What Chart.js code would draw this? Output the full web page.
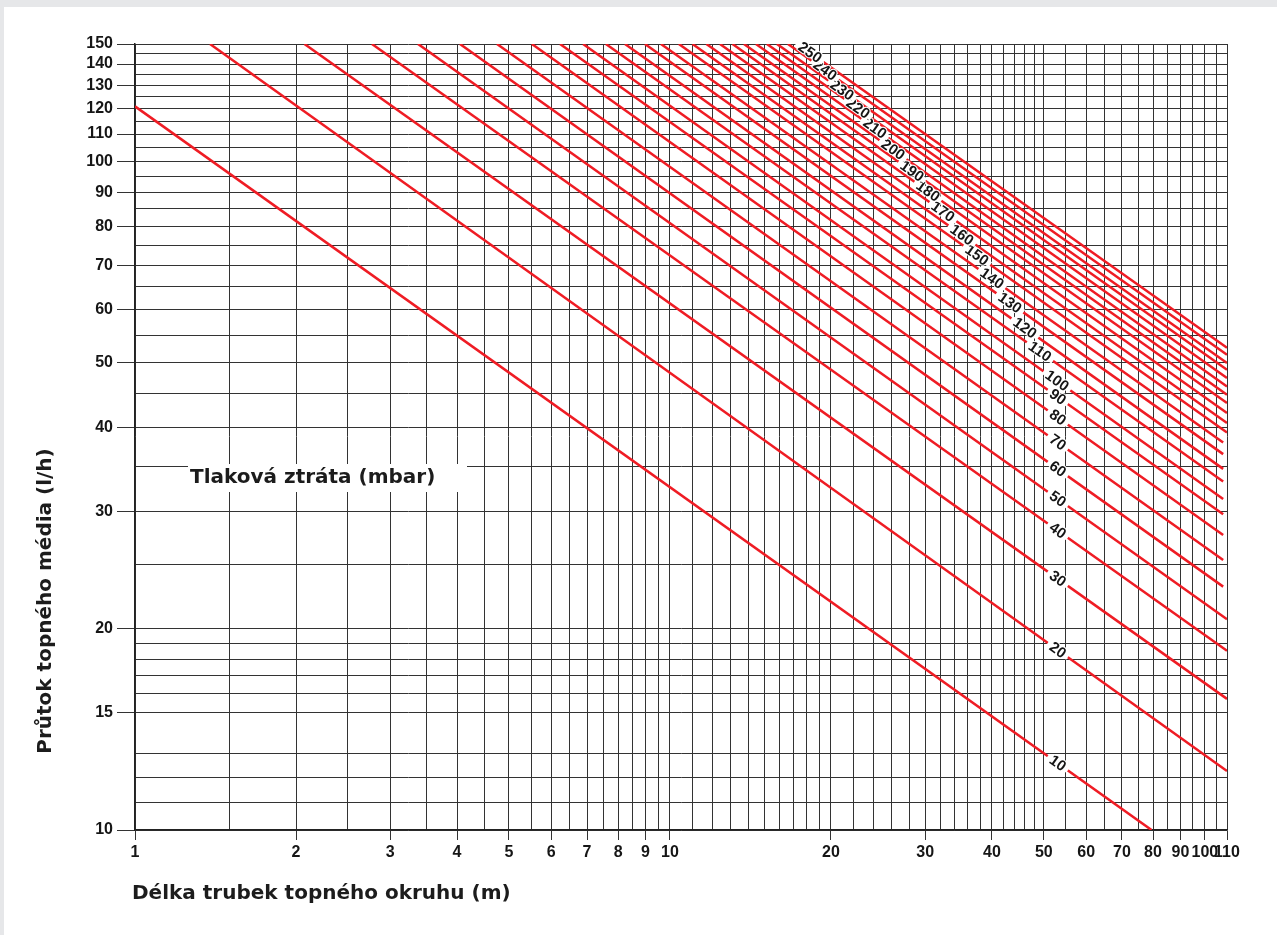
<!DOCTYPE html>
<html>
<head>
<meta charset="utf-8">
<title>Tlaková ztráta topného okruhu</title>
<script src="https://cdn.jsdelivr.net/npm/chart.js@4.4.1/dist/chart.umd.min.js"></script>
<style>
  html, body { margin: 0; padding: 0; background: #e6e7e9; overflow: hidden; }
  #sheet { position: absolute; left: 4px; top: 7px; width: 1273px; height: 928px; background: #ffffff; }
  #chart { position: absolute; left: 0; top: 0; }
</style>
</head>
<body>
<div id="sheet"></div>
<canvas id="chart" width="1277" height="935"></canvas>
<script>
// Pressure loss of each curve (mbar)
const pressureLoss = [10, 20, 30, 40, 50, 60, 70, 80, 90, 100, 110, 120, 130,
                      140, 150, 160, 170, 180, 190, 200, 210, 220, 230, 240, 250];

// Where each curve enters the chart: pipe length (m) and flow (l/h)
const startLength = [1, 1.381, 2.074, 2.773, 3.381, 4.05, 4.75, 5.52, 6.23, 6.88,
                     7.59, 8.24, 8.98, 9.62, 10.39, 11.02, 11.70, 12.40, 13.09,
                     13.75, 14.48, 15.18, 15.85, 16.62, 17.35];
const startFlow = [121, 150, 150, 150, 150, 150, 150, 150, 150, 150, 150, 150, 150,
                   150, 150, 150, 150, 150, 150, 150, 150, 150, 150, 150, 150];

// Where each curve leaves the chart: pipe length (m) and flow (l/h)
const endLength = [79.5, 110, 110, 110, 110, 108.2, 108.2, 108.2, 108.2, 108.2,
                   108.2, 108.2, 108.2, 108.2, 110, 110, 110, 110, 110, 110, 110,
                   110, 110, 110, 110];
const endFlow = [10, 12.25, 15.71, 18.55, 20.67, 23.13, 25.36, 27.64, 29.69, 31.29,
                 33.22, 34.70, 36.51, 38.01, 39.34, 40.63, 42.06, 43.54, 44.80,
                 46.10, 47.46, 48.84, 49.96, 51.41, 52.66];

// Pipe length at which each curve carries its mbar label
const labelLength = [53.1, 53.1, 53.1, 53.1, 53.1, 53.1, 53.1, 53.1, 53.1, 52.9,
                     49.16, 46.08, 43.2, 39.99, 37.48, 35.14, 32.38, 30.36, 28.34,
                     26.12, 24.16, 22.46, 20.97, 19.49, 18.27];

// Grid lines and labelled ticks of the length axis (m)
const lengthGrid = [1, 1.5, 2, 2.5, 3, 3.5, 4, 4.5, 5, 5.5, 6, 6.5, 7, 7.5, 8, 8.5,
                    9, 9.5, 10, 11, 12, 13, 14, 15, 16, 17, 18, 19, 20, 22, 24, 26,
                    28, 30, 32, 34, 36, 38, 40, 42, 44, 46, 48, 50, 55, 60, 65, 70,
                    75, 80, 85, 90, 95, 100, 105, 110];
const lengthLabels = [1, 2, 3, 4, 5, 6, 7, 8, 9, 10, 20, 30, 40, 50, 60, 70, 80, 90,
                      100, 110];

// Grid lines and labelled ticks of the flow axis (l/h)
const flowGrid = [10, 11, 12, 13, 15, 16, 17, 18, 19, 20, 25, 30, 35, 40, 45, 50,
                  55, 60, 65, 70, 75, 80, 85, 90, 95, 100, 105, 110, 115, 120, 125,
                  130, 135, 140, 145, 150];
const flowLabels = [10, 15, 20, 30, 40, 50, 60, 70, 80, 90, 100, 110, 120, 130,
                    140, 150];

const xTitle = 'Délka trubek topného okruhu (m)';
const yTitle = 'Průtok topného média (l/h)';
const curveTitle = 'Tlaková ztráta (mbar)';

const RED = '#ef1c24';
const GRID = '#333333';
const TICK_FONT = { family: '"Liberation Sans", Arial, sans-serif', size: 16, weight: 'bold' };
const TITLE_FONT = 'bold 20px "DejaVu Sans", Verdana, sans-serif';

const datasets = pressureLoss.map((p, i) => ({
  label: p + ' mbar',
  data: [{ x: startLength[i], y: startFlow[i] }, { x: endLength[i], y: endFlow[i] }],
  borderColor: RED,
  borderWidth: 2.5,
  pointRadius: 0,
  fill: false,
  tension: 0
}));

// Titles and the caption box for the mbar curves
const annotations = {
  id: 'annotations',
  beforeDatasetsDraw(chart) {
    const { ctx } = chart;
    ctx.save();
    ctx.fillStyle = '#ffffff';
    ctx.fillRect(188, 464, 279, 28);
    ctx.font = TITLE_FONT;
    ctx.fillStyle = '#1c1c1c';
    ctx.textAlign = 'left';
    ctx.textBaseline = 'middle';
    ctx.fillText(curveTitle, 190, 478);
    ctx.restore();
  },
  afterDraw(chart) {
    const { ctx } = chart;
    ctx.save();
    ctx.font = TITLE_FONT;
    ctx.fillStyle = '#1c1c1c';
    ctx.textBaseline = 'middle';
    ctx.textAlign = 'left';
    ctx.fillText(xTitle, 132, 894);
    ctx.translate(46, 601);
    ctx.rotate(-Math.PI / 2);
    ctx.textAlign = 'center';
    ctx.fillText(yTitle, 0, 0);
    ctx.restore();
  }
};

// mbar value written along each curve, with a break in the red line
const curveLabels = {
  id: 'curveLabels',
  afterDatasetsDraw(chart) {
    const { ctx } = chart;
    const xs = chart.scales.x;
    ctx.save();
    ctx.font = 'bold 15px "Liberation Sans", Arial, sans-serif';
    ctx.textAlign = 'center';
    ctx.textBaseline = 'middle';
    chart.data.datasets.forEach((ds, i) => {
      const pts = chart.getDatasetMeta(i).data;
      const a = pts[0], b = pts[1];
      const px = xs.getPixelForValue(labelLength[i]);
      const t = (px - a.x) / (b.x - a.x);
      const py = a.y + t * (b.y - a.y);
      const ang = Math.atan2(b.y - a.y, b.x - a.x);
      const txt = String(pressureLoss[i]);
      const w = ctx.measureText(txt).width;
      ctx.save();
      ctx.translate(px, py);
      ctx.rotate(ang);
      ctx.fillStyle = '#ffffff';
      ctx.fillRect(-w / 2 - 4, -3, w + 8, 6);
      ctx.lineWidth = 2;
      ctx.lineJoin = 'round';
      ctx.strokeStyle = '#ffffff';
      ctx.strokeText(txt, 0, 0.5);
      ctx.fillStyle = '#151515';
      ctx.fillText(txt, 0, 0.5);
      ctx.restore();
    });
    ctx.restore();
  }
};

new Chart(document.getElementById('chart'), {
  type: 'line',
  data: { datasets },
  plugins: [annotations, curveLabels],
  options: {
    responsive: false,
    animation: false,
    events: [],
    layout: { padding: { top: 44, right: 50, left: 0, bottom: 0 } },
    plugins: { legend: { display: false }, tooltip: { enabled: false } },
    scales: {
      x: {
        type: 'logarithmic',
        min: 1,
        max: 110,
        afterBuildTicks: s => { s.ticks = lengthGrid.map(v => ({ value: v })); },
        afterFit: s => { s.height = 105; },
        ticks: {
          autoSkip: false,
          maxRotation: 0,
          minRotation: 0,
          padding: 3,
          color: '#161616',
          font: TICK_FONT,
          callback: v => (lengthLabels.includes(v) ? String(v) : '')
        },
        grid: {
          color: GRID,
          lineWidth: 1,
          tickLength: 10,
          tickColor: c => (c.tick && lengthLabels.includes(c.tick.value) ? GRID : 'rgba(0,0,0,0)')
        },
        border: { color: '#222', width: 1.5 }
      },
      y: {
        type: 'logarithmic',
        min: 10,
        max: 150,
        afterBuildTicks: s => { s.ticks = flowGrid.map(v => ({ value: v })); },
        afterFit: s => { s.width = 135; },
        ticks: {
          autoSkip: false,
          padding: 4,
          color: '#161616',
          font: TICK_FONT,
          callback: v => (flowLabels.includes(v) ? String(v) : '')
        },
        grid: {
          color: GRID,
          lineWidth: 1,
          tickLength: 18,
          tickColor: c => (c.tick && flowLabels.includes(c.tick.value) ? GRID : 'rgba(0,0,0,0)')
        },
        border: { color: '#222', width: 1.5 }
      }
    }
  }
});
</script>
</body>
</html>
